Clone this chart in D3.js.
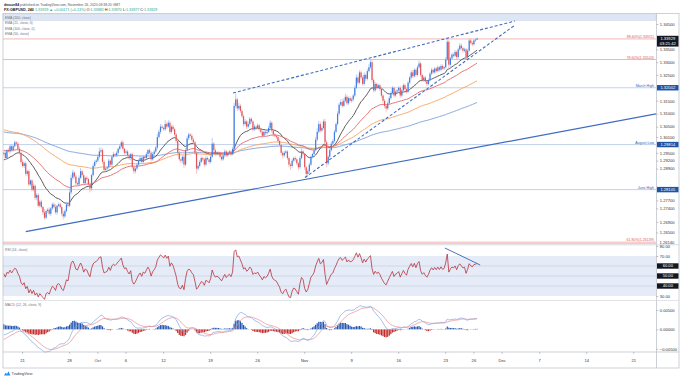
<!DOCTYPE html>
<html>
<head>
<meta charset="utf-8">
<script src="https://cdn.jsdelivr.net/npm/d3@7"></script>
<style>
  body { margin: 0; background: #fff; }
  svg { display: block; }
  text { font-family: "Liberation Sans", Arial, sans-serif; }
</style>
</head>
<body>
<div id="chart"></div>
<script>
/* CONSTANTS AND GLOBALS */
const width = 680;
const height = 377;

/* DATA */
// 4h bars, index 0 = Mon Sep 21 00:00, 6 bars per trading day
const startBar = -12;          // Thu Sep 17
const firstOpen = 1.2945;
const closes = [
  1.2950, 1.2930, 1.2960, 1.2955, 1.2975, 1.2960, // Sep 17
  1.2975, 1.2990, 1.2985, 1.2965, 1.2950, 1.2915, // Sep 18
  1.2900, 1.2910, 1.2870, 1.2880, 1.2830, 1.2845, // Sep 21
  1.2810, 1.2825, 1.2780, 1.2790, 1.2750, 1.2765, // Sep 22
  1.2745, 1.2725, 1.2705, 1.2730, 1.2735, 1.2720, // Sep 23
  1.2740, 1.2755, 1.2745, 1.2725, 1.2750, 1.2755, // Sep 24
  1.2745, 1.2720, 1.2710, 1.2730, 1.2755, 1.2750, // Sep 25
  1.2800, 1.2855, 1.2875, 1.2860, 1.2835, 1.2830, // Sep 28
  1.2855, 1.2880, 1.2865, 1.2835, 1.2855, 1.2850, // Sep 29
  1.2830, 1.2815, 1.2865, 1.2900, 1.2915, 1.2920, // Sep 30
  1.2935, 1.2955, 1.2960, 1.2915, 1.2885, 1.2890, // Oct 1
  1.2895, 1.2920, 1.2905, 1.2935, 1.2945, 1.2940, // Oct 2
  1.2950, 1.2965, 1.2975, 1.2990, 1.2965, 1.2950, // Oct 5
  1.2955, 1.2940, 1.2930, 1.2945, 1.2895, 1.2880, // Oct 6
  1.2890, 1.2905, 1.2920, 1.2930, 1.2915, 1.2935, // Oct 7
  1.2930, 1.2945, 1.2960, 1.2950, 1.2925, 1.2945, // Oct 8
  1.2955, 1.2970, 1.3010, 1.3030, 1.3050, 1.3045, // Oct 9
  1.3040, 1.3060, 1.3050, 1.3065, 1.3030, 1.3050, // Oct 12
  1.3040, 1.3020, 1.2995, 1.2950, 1.2925, 1.2920, // Oct 13
  1.2935, 1.2905, 1.2960, 1.3005, 1.3020, 1.3015, // Oct 14
  1.3000, 1.2990, 1.2950, 1.2890, 1.2900, 1.2915, // Oct 15
  1.2930, 1.2925, 1.2905, 1.2930, 1.2925, 1.2915, // Oct 16
  1.2935, 1.2985, 1.2960, 1.2945, 1.2950, 1.2945, // Oct 19
  1.2935, 1.2925, 1.2940, 1.2955, 1.2940, 1.2950, // Oct 20
  1.2955, 1.2945, 1.2965, 1.3130, 1.3155, 1.3120, // Oct 21
  1.3130, 1.3110, 1.3090, 1.3060, 1.3070, 1.3050, // Oct 22
  1.3060, 1.3080, 1.3070, 1.3040, 1.3050, 1.3045, // Oct 23
  1.3055, 1.3040, 1.3030, 1.3015, 1.3030, 1.3025, // Oct 26
  1.3030, 1.3045, 1.3065, 1.3035, 1.3020, 1.3015, // Oct 27
  1.3010, 1.2995, 1.2980, 1.2950, 1.2940, 1.2950, // Oct 28
  1.2955, 1.2930, 1.2905, 1.2900, 1.2920, 1.2930, // Oct 29
  1.2925, 1.2910, 1.2895, 1.2930, 1.2955, 1.2945, // Oct 30
  1.2895, 1.2870, 1.2880, 1.2905, 1.2935, 1.2945, // Nov 2
  1.2960, 1.3000, 1.3030, 1.3060, 1.3035, 1.3045, // Nov 3
  1.3070, 1.2990, 1.2910, 1.2935, 1.2960, 1.2985, // Nov 4
  1.2995, 1.3030, 1.3060, 1.3100, 1.3135, 1.3145, // Nov 5
  1.3130, 1.3150, 1.3165, 1.3140, 1.3160, 1.3150, // Nov 6
  1.3155, 1.3170, 1.3200, 1.3240, 1.3220, 1.3260, // Nov 9
  1.3240, 1.3215, 1.3250, 1.3235, 1.3265, 1.3280, // Nov 10
  1.3300, 1.3230, 1.3190, 1.3215, 1.3200, 1.3210, // Nov 11
  1.3195, 1.3170, 1.3150, 1.3130, 1.3120, 1.3140, // Nov 12
  1.3160, 1.3180, 1.3200, 1.3170, 1.3185, 1.3190, // Nov 13
  1.3200, 1.3170, 1.3190, 1.3210, 1.3195, 1.3185, // Nov 16
  1.3220, 1.3240, 1.3260, 1.3245, 1.3270, 1.3250, // Nov 17
  1.3280, 1.3295, 1.3250, 1.3230, 1.3240, 1.3225, // Nov 18
  1.3215, 1.3230, 1.3255, 1.3270, 1.3260, 1.3275, // Nov 19
  1.3265, 1.3280, 1.3270, 1.3285, 1.3275, 1.3280, // Nov 20
  1.3310, 1.3380, 1.3290, 1.3315, 1.3330, 1.3325, // Nov 23
  1.3340, 1.3320, 1.3350, 1.3365, 1.3355, 1.3345, // Nov 24
  1.3350, 1.3320, 1.3345, 1.3385, 1.3375, 1.3370, // Nov 25
  1.3385, 1.3388, 1.3393                          // Nov 26
];
// wick lengths beyond the body, in pips
const wickUp = [
  6,8,4,7,5,9, 5,7,4,6,8,5, 10,6,8,5,7,4, 6,9,5,7,8,6, 8,5,12,6,7,9,
  5,6,8,10,4,7, 6,5,9,7,8,6, 15,12,10,6,8,5, 9,12,6,7,5,8, 6,8,5,9,7,6,
  8,14,10,6,7,5, 6,8,5,7,9,4, 7,5,8,6,9,5, 8,6,7,5,6,4, 5,7,6,8,5,7,
  6,8,5,7,6,8, 7,6,12,9,10,8, 6,15,8,10,7,6, 8,6,5,7,6,5, 5,6,8,10,7,5,
  6,8,5,7,6,8, 7,5,6,8,6,5, 8,22,6,7,5,6, 5,6,7,8,6,5, 6,5,8,12,22,8,
  12,8,6,7,9,6, 10,7,6,5,8,6, 8,6,7,5,6,5, 7,8,10,6,5,6, 5,6,7,5,6,8,
  6,5,7,6,8,5, 7,6,5,8,12,6, 5,6,7,8,6,5, 8,10,14,12,9,6, 8,10,8,6,7,9,
  6,8,7,9,8,10, 12,10,12,8,6,7, 8,6,10,12,8,9, 7,8,10,6,9,12, 12,8,6,7,5,6,
  6,7,5,6,8,7, 8,6,7,5,6,5, 6,8,5,7,6,5, 7,6,8,10,6,5, 8,12,6,5,7,6,
  5,6,7,8,5,6, 6,8,5,7,6,5, 10,17,8,6,7,5, 8,6,7,10,8,6, 6,5,8,7,10,6,
  5,6,4
];
const wickDn = [
  5,7,6,4,8,6, 6,5,8,7,6,9, 5,8,7,9,6,5, 7,6,8,10,6,7, 6,9,8,5,7,6,
  8,6,5,7,9,5, 6,10,12,6,5,7, 5,6,7,8,9,6, 7,5,8,9,6,5, 6,15,8,5,6,7,
  5,6,7,8,10,6, 7,5,8,6,5,6, 6,7,5,8,6,7, 5,7,6,8,9,10, 8,6,7,5,6,5,
  6,5,8,7,9,5, 6,5,7,6,8,5, 7,6,9,5,8,6, 6,8,7,10,8,9, 10,14,6,5,7,6,
  6,7,8,20,7,6, 5,7,8,6,5,7, 6,5,8,7,6,5, 7,6,5,8,6,7, 6,8,5,6,7,10,
  6,7,8,10,6,9, 7,6,8,9,6,7, 6,8,7,10,6,7, 6,5,7,8,9,6, 7,8,6,10,12,7,
  6,8,10,15,7,6, 8,7,12,6,5,7, 10,14,9,6,5,6, 6,5,7,6,8,5, 6,10,15,8,6,5,
  6,7,5,6,8,6, 7,5,6,8,6,5, 8,7,6,5,9,6, 7,8,5,9,6,5, 6,10,8,6,7,5,
  7,8,9,10,12,6, 5,6,7,8,6,5, 6,9,7,5,6,7, 6,5,7,8,6,7, 5,6,8,7,6,8,
  9,6,5,6,7,5, 6,5,7,6,5,6, 5,6,20,8,6,7, 6,9,7,6,7,8, 6,12,7,5,6,7,
  5,6,1
];

// EMA settings: [length, starting value read at the left edge, colour]
const emaDefs = [
  { n: 200, seed: 1.3030, color: "#7e9fd9", label: "EMA (200, close)" },
  { n: 21,  seed: 1.2921, color: "#4a4a4a", label: "EMA (21, close, 0)" },
  { n: 100, seed: 1.3040, color: "#f6a35f", label: "EMA (100, close, 0)" },
  { n: 50,  seed: 1.2960, color: "#e06767", label: "EMA (50, close)" }
];
const macdSeeds = { fast: 1.2945, slow: 1.2960, signal: -0.0030 };
const rsiSeeds = { gain: 0.0012, loss: 0.0011 };

// x axis: trading-day offsets from Sep 21 and their labels
const xTickDays = [0, 5, 8, 11, 15, 20, 25, 30, 35, 40, 45, 48, 51, 55, 60, 65];
const xTickLabels = ["21", "28", "Oct", "6", "12", "19", "26", "Nov", "9", "16", "23", "26", "Dec", "7", "14", "21"];

const priceTicks = [1.345, 1.335, 1.33, 1.325, 1.315, 1.31, 1.305, 1.301, 1.295, 1.292, 1.289, 1.277, 1.274, 1.269, 1.265];
const rsiTicks = [80, 70, 30];
const rsiLevels = [60, 50, 40];
const macdTicks = [0.005, 0, -0.005];

const fibLevels = [
  { p: 1.33911, label: "88.60%(1.33911)" },
  { p: 1.33103, label: "78.60%(1.33103)" },
  { p: 1.26139, label: "61.80%(1.26139)" }
];
const keyLevels = [
  { p: 1.32002, label: "March High" },
  { p: 1.29814, label: "August Low" },
  { p: 1.28105, label: "June High" }
];
// trend lines as [bar index, price]
const trendLines = [
  { pts: [[134.3, 1.3180], [314.2, 1.3462]], dash: "3,2", w: 1.1 },
  { pts: [[180.2, 1.2856], [314.2, 1.3446]], dash: "3,2", w: 1.1 },
  { pts: [[2, 1.2653], [404.2, 1.3099]], dash: null, w: 1.2 }
];
const rsiTrend = [[269.5, 78], [292, 61]];

const lastPrice = 1.33929;
const lastTime = "03:21:42";

/* DERIVED SERIES */
const bars = closes.map((c, k) => {
  const o = k ? closes[k - 1] : firstOpen;
  return {
    i: startBar + k, o, c,
    h: Math.max(o, c) + wickUp[k] * 1e-4,
    l: Math.min(o, c) - wickDn[k] * 1e-4
  };
});

function ema(vals, n, seed) {
  const a = 2 / (n + 1);
  let e = seed;
  return vals.map(v => (e = e + a * (v - e)));
}

function rsi(vals, n, g0, l0) {
  let ag = g0, al = l0;
  return vals.map((v, k) => {
    if (k > 0) {
      const d = v - vals[k - 1];
      ag = (ag * (n - 1) + Math.max(d, 0)) / n;
      al = (al * (n - 1) + Math.max(-d, 0)) / n;
    }
    return 100 - 100 / (1 + ag / al);
  });
}

const emaSeries = emaDefs.map(d => ({ ...d, vals: ema(closes, d.n, d.seed) }));
const rsiVals = rsi(closes, 14, rsiSeeds.gain, rsiSeeds.loss);
const fast = ema(closes, 12, macdSeeds.fast);
const slow = ema(closes, 26, macdSeeds.slow);
const macdVals = fast.map((f, k) => f - slow[k]);
const signalVals = ema(macdVals, 9, macdSeeds.signal);

/* LAYOUT */
const left = 3, right = 656;
const main = { top: 13, bottom: 244.5 };
const rsiP = { top: 244.5, bottom: 300.5 };
const macdP = { top: 300.5, bottom: 352 };
const axisBottom = 368;

/* SCALES */
const xScale = d3.scaleLinear().domain([-12.5, 404.2]).range([left, right]);
const yScale = d3.scaleLog().domain([1.26053, 1.34937]).range([main.bottom, main.top]);
const yRsi = d3.scaleLinear().domain([25.5, 81.5]).range([rsiP.bottom, rsiP.top]);
const yMacd = d3.scaleLinear().domain([-0.00585, 0.00746]).range([macdP.bottom, macdP.top]);

/* HTML ELEMENTS */
const svg = d3.select("#chart").append("svg")
  .attr("width", width)
  .attr("height", height);

svg.append("rect").attr("width", width).attr("height", height).attr("fill", "#fff");

const defs = svg.append("defs");
defs.append("clipPath").attr("id", "plot")
  .append("rect").attr("x", left).attr("y", main.top).attr("width", right - left).attr("height", main.bottom - main.top);
defs.append("clipPath").attr("id", "rsiClip")
  .append("rect").attr("x", left).attr("y", rsiP.top).attr("width", right - left).attr("height", rsiP.bottom - rsiP.top);

// header
const h1 = svg.append("text").attr("x", 4).attr("y", 5.6).attr("font-size", 3.4).attr("fill", "#555");
h1.append("tspan").attr("font-weight", "bold").attr("fill", "#222").text("dmoon84");
h1.append("tspan").text(" published on TradingView.com, November 26, 2020 08:38:20 GMT");

const h2parts = [
  ["FX:GBPUSD, 240 ", "#222", "bold"], ["1.33929 \u25B2 +0.00171 (+0.13%) ", "#26a69a", "normal"],
  ["O:", "#222", "normal"], ["1.33882 ", "#26a69a", "normal"],
  ["H:", "#222", "normal"], ["1.33970 ", "#26a69a", "normal"],
  ["L:", "#222", "normal"], ["1.33877 ", "#26a69a", "normal"],
  ["C:", "#222", "normal"], ["1.33929", "#26a69a", "normal"]
];
const h2 = svg.append("text").attr("x", 4).attr("y", 11.3).attr("font-size", 3.7);
h2parts.forEach(p => h2.append("tspan").attr("fill", p[1]).attr("font-weight", p[2]).text(p[0]));

// legend highlight band
svg.append("rect").attr("x", left).attr("y", 14.5).attr("width", right - left).attr("height", 6)
  .attr("fill", "#dde6f4").attr("stroke", "#c7d4ea").attr("stroke-width", 0.5);

// horizontal levels
const plot = svg.append("g").attr("clip-path", "url(#plot)");

plot.selectAll(".fib").data(fibLevels).join("line")
  .attr("x1", left).attr("x2", right)
  .attr("y1", d => yScale(d.p)).attr("y2", d => yScale(d.p))
  .attr("stroke", "#f2a3a3").attr("stroke-width", 0.8);
plot.append("line").attr("x1", left).attr("x2", right)
  .attr("y1", yScale(fibLevels[2].p) + 1.4).attr("y2", yScale(fibLevels[2].p) + 1.4)
  .attr("stroke", "#f4b8b8").attr("stroke-width", 0.8);

plot.selectAll(".key").data(keyLevels).join("line")
  .attr("x1", left).attr("x2", right)
  .attr("y1", d => yScale(d.p)).attr("y2", d => yScale(d.p))
  .attr("stroke", "#b9cdea").attr("stroke-width", 0.9);

// EMAs
const emaLine = vals => d3.line().x((v, k) => xScale(startBar + k)).y(v => yScale(v))(vals);
plot.selectAll(".ema").data(emaSeries).join("path")
  .attr("d", d => emaLine(d.vals))
  .attr("fill", "none").attr("stroke", d => d.color).attr("stroke-width", 0.9);

// candles
const candle = plot.selectAll(".candle").data(bars).join("g");
candle.append("line")
  .attr("x1", d => xScale(d.i)).attr("x2", d => xScale(d.i))
  .attr("y1", d => yScale(d.h)).attr("y2", d => yScale(d.l))
  .attr("stroke", d => d.c >= d.o ? "#9bbaee" : "#f2aaac").attr("stroke-width", 0.7);
candle.append("rect")
  .attr("x", d => xScale(d.i) - 0.6).attr("width", 1.2)
  .attr("y", d => yScale(Math.max(d.o, d.c)))
  .attr("height", d => Math.max(0.5, yScale(Math.min(d.o, d.c)) - yScale(Math.max(d.o, d.c))))
  .attr("fill", d => d.c >= d.o ? "#3f7de3" : "#e2535a");

// trend lines
plot.selectAll(".trend").data(trendLines).join("line")
  .attr("x1", d => xScale(d.pts[0][0])).attr("y1", d => yScale(d.pts[0][1]))
  .attr("x2", d => xScale(d.pts[1][0])).attr("y2", d => yScale(d.pts[1][1]))
  .attr("stroke", "#3f6cc0").attr("stroke-width", d => d.w)
  .attr("stroke-dasharray", d => d.dash);

// level labels inside the pane
svg.selectAll(".fibLabel").data(fibLevels).join("text")
  .attr("x", right - 2).attr("y", d => yScale(d.p) - 0.8)
  .attr("text-anchor", "end").attr("font-size", 3.6).attr("fill", "#e05555")
  .text(d => d.label);
svg.selectAll(".keyLabel").data(keyLevels).join("text")
  .attr("x", right - 2).attr("y", d => yScale(d.p) - 0.8)
  .attr("text-anchor", "end").attr("font-size", 3.6).attr("fill", "#3c64b4")
  .text(d => d.label);

// legend text
svg.selectAll(".legend").data(emaDefs).join("text")
  .attr("x", 5).attr("y", (d, k) => 18.8 + k * 5.5)
  .attr("font-size", 3.4).attr("fill", "#6f7280")
  .text(d => d.label);

// RSI pane
svg.append("rect").attr("x", left).attr("width", right - left)
  .attr("y", yRsi(70)).attr("height", yRsi(30) - yRsi(70)).attr("fill", "#e5ecf7");
svg.selectAll(".rsiLvl").data(rsiLevels).join("line")
  .attr("x1", left).attr("x2", right)
  .attr("y1", d => yRsi(d)).attr("y2", d => yRsi(d))
  .attr("stroke", "#c6d1e3").attr("stroke-width", 0.7);
svg.append("text").attr("x", 5).attr("y", 250.5).attr("font-size", 3.4).attr("fill", "#6f7280").text("RSI (14, close)");
svg.append("path").attr("clip-path", "url(#rsiClip)")
  .attr("d", d3.line().x((v, k) => xScale(startBar + k)).y(v => yRsi(v))(rsiVals))
  .attr("fill", "none").attr("stroke", "#b8323c").attr("stroke-width", 0.8);
svg.append("line")
  .attr("x1", xScale(rsiTrend[0][0])).attr("y1", yRsi(rsiTrend[0][1]))
  .attr("x2", xScale(rsiTrend[1][0])).attr("y2", yRsi(rsiTrend[1][1]))
  .attr("stroke", "#4a73c4").attr("stroke-width", 1);

// MACD pane
svg.append("text").attr("x", 5).attr("y", 305.5).attr("font-size", 3.4).attr("fill", "#6f7280").text("MACD (12, 26, close, 9)");
svg.selectAll(".hist").data(macdVals).join("rect")
  .attr("x", (v, k) => xScale(startBar + k) - 0.6).attr("width", 1.2)
  .attr("y", (v, k) => yMacd(Math.max(0, v - signalVals[k])))
  .attr("height", (v, k) => Math.abs(yMacd(v - signalVals[k]) - yMacd(0)))
  .attr("fill", (v, k) => v - signalVals[k] >= 0 ? "#2456b0" : "#c32a2a");
svg.append("path")
  .attr("d", d3.line().x((v, k) => xScale(startBar + k)).y(v => yMacd(v))(macdVals))
  .attr("fill", "none").attr("stroke", "#7ea3e6").attr("stroke-width", 0.7);
svg.append("path")
  .attr("d", d3.line().x((v, k) => xScale(startBar + k)).y(v => yMacd(v))(signalVals))
  .attr("fill", "none").attr("stroke", "#ec8b8b").attr("stroke-width", 0.7);

// frame and separators
const frame = svg.append("g").attr("stroke", "#b8bcc6").attr("stroke-width", 0.7).attr("fill", "none");
frame.append("rect").attr("x", left).attr("y", main.top + 0.5).attr("width", 679 - left).attr("height", axisBottom - main.top - 0.5);
frame.append("line").attr("x1", right + 0.5).attr("x2", right + 0.5).attr("y1", main.top).attr("y2", axisBottom);
frame.append("line").attr("x1", left).attr("x2", 679).attr("y1", rsiP.top + 0.3).attr("y2", rsiP.top + 0.3).attr("stroke", "#c9ccd3");
frame.append("line").attr("x1", left).attr("x2", 679).attr("y1", macdP.top).attr("y2", macdP.top).attr("stroke", "#d5d8de");
frame.append("line").attr("x1", left).attr("x2", 679).attr("y1", macdP.bottom).attr("y2", macdP.bottom);

// right axes
function styleAxis(g) {
  g.select(".domain").remove();
  g.selectAll("line").attr("stroke", "#888").attr("stroke-width", 0.5);
  g.selectAll("text").attr("font-size", 4.1).attr("fill", "#333").attr("font-family", "Liberation Sans, Arial, sans-serif");
}
svg.append("g").attr("transform", `translate(${right + 0.5},0)`)
  .call(d3.axisRight(yScale).tickValues(priceTicks).tickFormat(d3.format(".5f")).tickSize(1.8).tickPadding(1.5))
  .call(styleAxis);
svg.append("g").attr("transform", `translate(${right + 0.5},0)`)
  .call(d3.axisRight(yRsi).tickValues(rsiTicks).tickFormat(d3.format(".2f")).tickSize(1.8).tickPadding(1.5))
  .call(styleAxis);
svg.append("g").attr("transform", `translate(${right + 0.5},0)`)
  .call(d3.axisRight(yMacd).tickValues(macdTicks).tickFormat(d3.format(".5f")).tickSize(1.8).tickPadding(1.5))
  .call(styleAxis);

// badges on the price axis
function badge(y, lines, fill) {
  const h = 5.4 * lines.length;
  svg.append("rect").attr("x", right + 1).attr("y", y - 2.7).attr("width", 21.5).attr("height", h).attr("fill", fill);
  lines.forEach((t, k) => svg.append("text")
    .attr("x", right + 11.8).attr("y", y + 1.4 + k * 5.4)
    .attr("text-anchor", "middle").attr("font-size", 4.1).attr("fill", "#fff").text(t));
}
badge(yScale(lastPrice), [d3.format(".5f")(lastPrice), lastTime], "#131722");
keyLevels.forEach(d => badge(yScale(d.p), [d3.format(".5f")(d.p)], "#1e53a5"));
rsiLevels.forEach(v => badge(yRsi(v), [d3.format(".2f")(v)], "#131722"));
svg.append("text").attr("x", right + 3.5).attr("y", yScale(1.2614) + 1.4)
  .attr("font-size", 4.1).attr("fill", "#333").text("1.26140");

// time axis
const xt = svg.append("g");
xt.selectAll("line").data(xTickDays).join("line")
  .attr("x1", d => xScale(d * 6)).attr("x2", d => xScale(d * 6))
  .attr("y1", macdP.bottom).attr("y2", macdP.bottom + 1.8)
  .attr("stroke", "#888").attr("stroke-width", 0.5);
xt.selectAll("text").data(xTickDays).join("text")
  .attr("x", d => xScale(d * 6)).attr("y", 361.5)
  .attr("text-anchor", "middle").attr("font-size", 4.1).attr("fill", "#333")
  .text((d, k) => xTickLabels[k]);

// TradingView mark
const logo = svg.append("g").attr("transform", "translate(4,370.5)");
logo.append("path").attr("d", "M0,5 L1.6,2.2 L3,3.6 L4.6,0.8 L6.4,5 Z").attr("fill", "#2196f3");
svg.append("text").attr("x", 11.5).attr("y", 375.4).attr("font-size", 3.8).attr("fill", "#3a3e4a").text("TradingView");
</script>
</body>
</html>
